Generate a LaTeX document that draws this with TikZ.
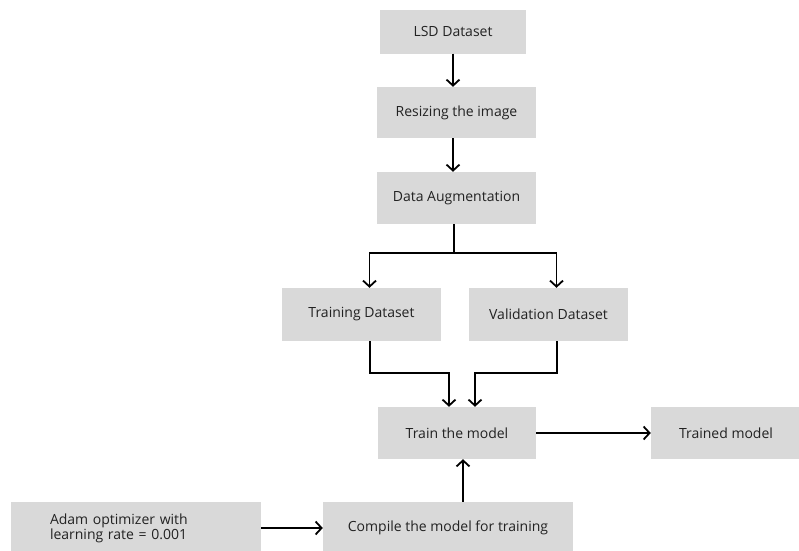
\documentclass[tikz,border=0pt]{standalone}
\usepackage{fontspec}
\setmainfont{Open Sans}
\usetikzlibrary{positioning,arrows.meta,calc}
\definecolor{boxgray}{HTML}{D9D9D9}
\definecolor{inkgray}{HTML}{222222}

\begin{document}
\begin{tikzpicture}[x=1pt, y=-1pt,
    stage/.style={fill=boxgray, draw=none, align=center, text=inkgray,
        font=\fontsize{14}{15}\selectfont, inner sep=0pt},
    flow/.style={line width=1.8pt, -{Straight Barb[length=6pt,width=13pt,line width=1.8pt]}}]
        \useasboundingbox[fill=white] (0,0) rectangle (799,550);

        % main column
        \node[stage, minimum width=146, minimum height=44] (lsd) at (453,31.5) {LSD Dataset};
        \node[stage, minimum width=159, minimum height=51] (resize) at (456.5,112.5) {Resizing the image};
        \node[stage, minimum width=159, minimum height=52] (augment) at (456.5,198) {Data Augmentation};

        % split
        \node[stage, minimum width=159, minimum height=53] (trainset) at (361.5,314.5) {Training Dataset};
        \node[stage, minimum width=159, minimum height=53] (validset) at (548.5,314.5) {Validation Dataset};

        % training
        \node[stage, minimum width=158, minimum height=52] (fit) at (457,433) {Train the model};
        \node[stage, minimum width=150, minimum height=52] (trained) at (726,433) {Trained model};
        \node[stage, minimum width=250, minimum height=52] (compile) at (448,528) {Compile the model for training};
        \node[stage, minimum width=250, minimum height=52, align=left, text width=172] (adam) at (136,528)
            {Adam optimizer with\\learning rate = 0.001};

        \coordinate (fork) at (454,253);
        \coordinate (joinl) at (370,373);
        \coordinate (joinr) at (557,373);

        \draw[flow] (lsd.south) -- (lsd.south |- resize.north);
        \draw[flow] (lsd.south |- resize.south) -- (lsd.south |- augment.north);
        \draw[line width=1.8pt] (fork |- augment.south) -- (fork);
        \draw[flow] (fork) -| ([xshift=8]trainset.north);
        \draw[flow] (fork) -| ([xshift=8]validset.north);
        \draw[flow] (joinl |- trainset.south) -- (joinl) -| ([xshift=-8]fit.north);
        \draw[flow] (joinr |- validset.south) -- (joinr) -| ([xshift=18]fit.north);
        \draw[flow] (fit.east) -- (trained.west);
        \draw[flow] ([xshift=15]compile.north) -- ([xshift=15]compile.north |- fit.south);
        \draw[flow] (adam.east) -- (compile.west);
\end{tikzpicture}
\end{document}
